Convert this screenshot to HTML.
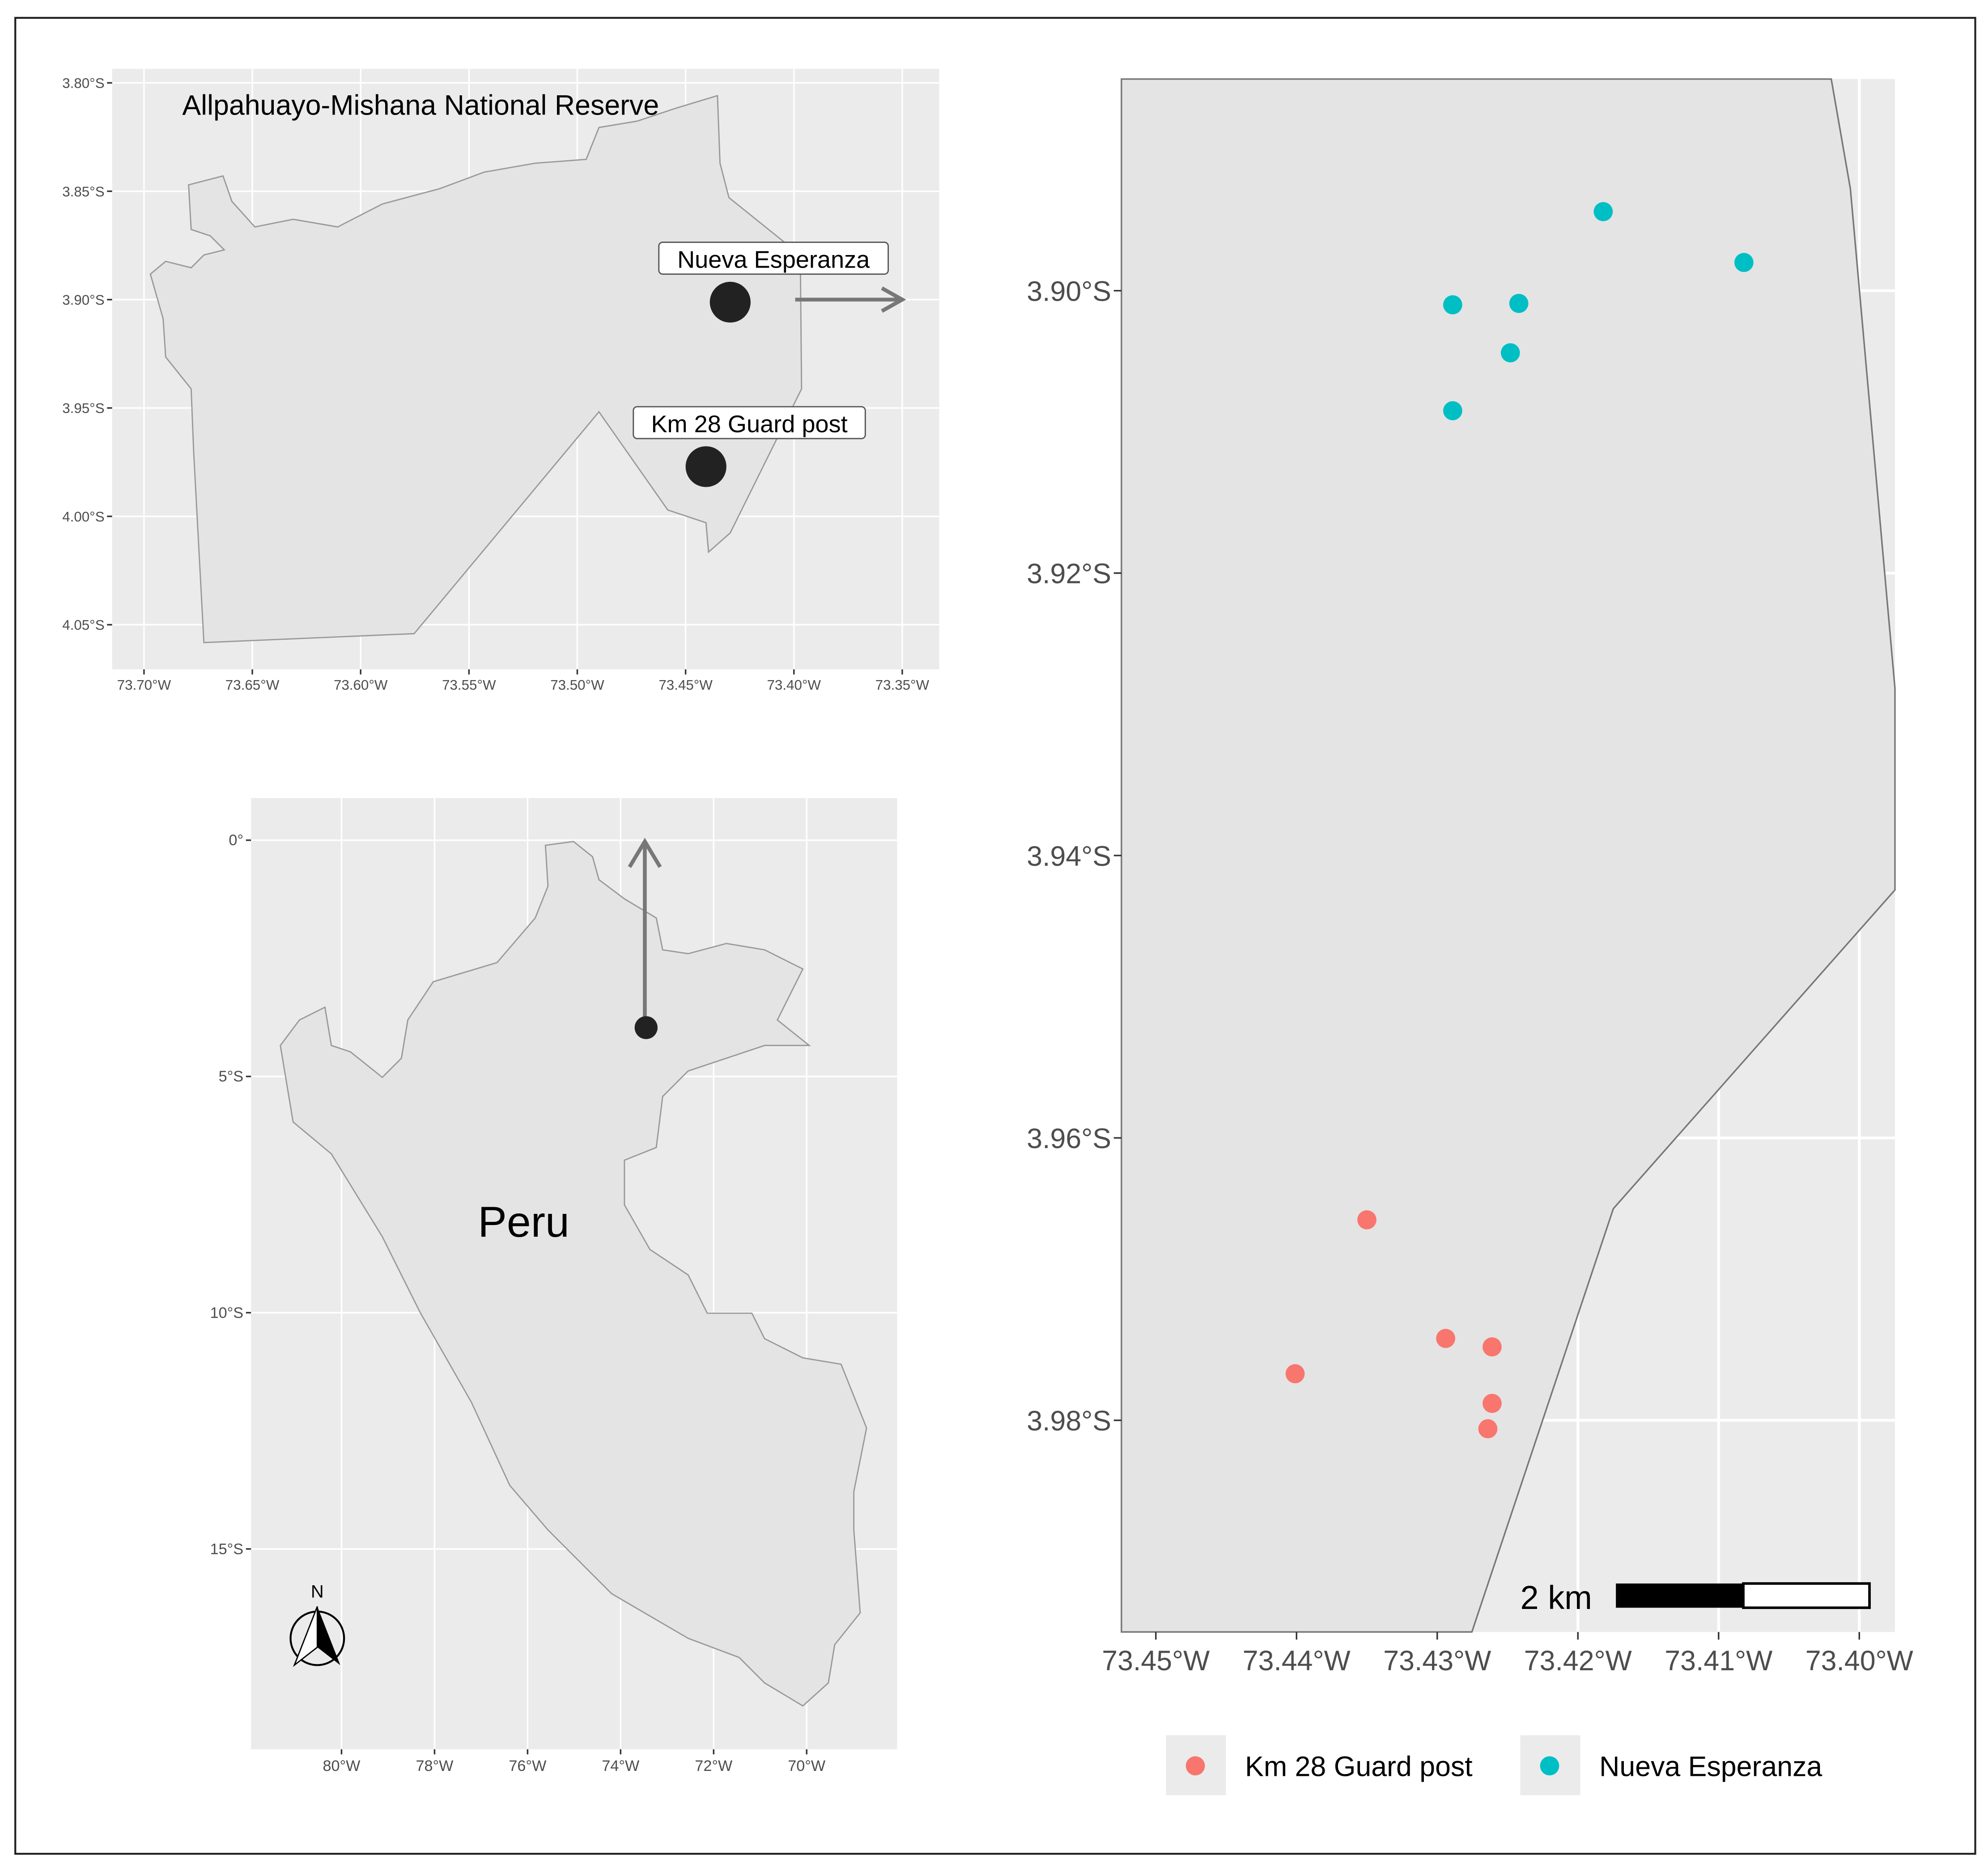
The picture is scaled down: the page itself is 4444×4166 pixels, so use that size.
<!DOCTYPE html>
<html><head><meta charset="utf-8"><style>html,body{margin:0;padding:0;background:#fff}svg{display:block}text{font-family:"Liberation Sans",sans-serif}</style></head>
<body>
<svg id="fig" width="4444" height="4166" viewBox="0 0 1560 1462" preserveAspectRatio="none" xmlns="http://www.w3.org/2000/svg">
<rect x="12" y="14" width="1538" height="1440" fill="#fff" stroke="#222" stroke-width="1.5"/>

<g>
<rect x="88" y="54" width="649" height="471" fill="#ebebeb"/>
<g id="tlgrid" stroke="#fff" stroke-width="1.2"></g>
<polygon fill="#e4e4e4" stroke="#999" stroke-width="1" points="563,75 565,128 572,155 628,200 629,305 573,418 556,433 554,410 524,400 470,323 325,497 160,504 152,355 150,305 130,280 128,250 118,215 130,205 150,210 160,200 176,196 165,185 150,180 148,145 175,138 182,158 200,178 230,172 265,178 300,160 345,148 380,135 420,128 460,125 470,100 500,95 530,85"/>
<text x="143" y="90" font-size="22" fill="#000">Allpahuayo-Mishana National Reserve</text>
<circle cx="573" cy="237" r="16" fill="#222"/>
<circle cx="554" cy="366" r="16" fill="#222"/>
<line x1="624" y1="235" x2="706" y2="235" stroke="#777" stroke-width="3"/>
<polyline points="692,226 708,235 692,244" fill="none" stroke="#777" stroke-width="3"/>
<rect x="517" y="190" width="180" height="25" rx="3" fill="#fff" stroke="#555"/>
<text x="607" y="210" font-size="19" text-anchor="middle">Nueva Esperanza</text>
<rect x="497" y="319" width="182" height="25" rx="3" fill="#fff" stroke="#555"/>
<text x="588" y="339" font-size="19" text-anchor="middle">Km 28 Guard post</text>
<g id="tlaxes" font-size="11" fill="#4d4d4d"></g>
</g>

<g>
<rect x="197" y="626" width="507" height="746" fill="#ebebeb"/>
<g id="blgrid" stroke="#fff" stroke-width="1.2"></g>
<polygon fill="#e4e4e4" stroke="#999" stroke-width="1" points="428,663 450,660 465,672 470,690 490,705 515,720 520,745 540,748 570,740 600,745 630,760 610,800 635,820 600,820 570,830 540,840 520,860 515,900 490,910 490,945 510,980 540,1000 555,1030 590,1030 600,1050 630,1065 660,1070 680,1120 670,1170 670,1200 675,1265 655,1290 650,1320 630,1338 600,1320 580,1300 540,1285 480,1250 430,1200 400,1165 370,1100 330,1030 300,970 260,905 230,880 225,850 220,820 235,800 255,790 260,820 275,825 300,845 315,830 320,800 340,770 390,755 420,720 430,695"/>
<text x="375" y="970" font-size="34">Peru</text>
<line x1="506" y1="806" x2="506" y2="662" stroke="#777" stroke-width="3"/>
<polyline points="494,680 506,660 518,680" fill="none" stroke="#777" stroke-width="3"/>
<circle cx="507" cy="806" r="9" fill="#222"/>
<g>
<text x="249" y="1253" font-size="14" text-anchor="middle">N</text>
<circle cx="249" cy="1285" r="21" fill="none" stroke="#000" stroke-width="1.5"/>
<polygon points="249,1260 231,1306 249,1292" fill="#fff" stroke="#000"/>
<polygon points="249,1260 267,1306 249,1292" fill="#000"/>
</g>
<g id="blaxes" font-size="12" fill="#4d4d4d"></g>
</g>

<g>
<rect x="880" y="62" width="607" height="1218" fill="#ebebeb"/>
<g id="rgrid" stroke="#fff"></g>
<polygon fill="#e4e4e4" stroke="#777" stroke-width="1.2" points="880,62 1437,62 1452,148 1487,540 1487,698 1266,948 1155,1280 880,1280"/>
<g id="pts"></g>
<g>
<text x="1193" y="1262" font-size="26">2 km</text>
<rect x="1268" y="1242" width="100" height="19" fill="#000"/>
<rect x="1368" y="1242" width="99" height="19" fill="#fff" stroke="#000" stroke-width="2"/>
</g>
<g id="raxes" font-size="22" fill="#4d4d4d"></g>
<g>
<rect x="915" y="1361" width="47" height="47" fill="#ebebeb"/>
<circle cx="938" cy="1385" r="7.5" fill="#F8766D"/>
<text x="977" y="1393" font-size="22">Km 28 Guard post</text>
<rect x="1193" y="1361" width="47" height="47" fill="#ebebeb"/>
<circle cx="1216" cy="1385" r="7.5" fill="#00BFC4"/>
<text x="1255" y="1393" font-size="22">Nueva Esperanza</text>
</g>
</g>
</svg>
<script>
const NS="http://www.w3.org/2000/svg";
const tlLatTicks=[3.80,3.85,3.90,3.95,4.00,4.05];
const tlLonTicks=[73.70,73.65,73.60,73.55,73.50,73.45,73.40,73.35];
const peruLatTicks=[0,5,10,15];
const peruLonTicks=[80,78,76,74,72,70];
const rLatTicks=[3.90,3.92,3.94,3.96,3.98];
const rLonTicks=[73.45,73.44,73.43,73.42,73.41,73.40];
const km28Lon=[73.4350,73.4294,73.4261,73.4401,73.4261,73.4264];
const km28Lat=[3.9658,3.9742,3.9748,3.9767,3.9788,3.9806];
const nuevaLon=[73.4182,73.4082,73.4289,73.4242,73.4248,73.4289];
const nuevaLat=[3.8944,3.8980,3.9010,3.9009,3.9044,3.9085];

function mk(tag,attrs,parent,txt){const e=document.createElementNS(NS,tag);for(const k in attrs)e.setAttribute(k,attrs[k]);if(txt!==undefined)e.textContent=txt;parent.appendChild(e);return e;}
const tlX=v=>113+(73.70-v)/0.05*85, tlY=v=>65+(v-3.80)/0.05*85;
const pX=v=>268+(80-v)/2*73, pY=v=>659+v/5*185.3;
const rX=v=>907+(73.45-v)/0.01*110.4, rY=v=>228+(v-3.90)/0.02*221.5;

function axes(gridId,axId,latT,lonT,fx,fy,x0,x1,y0,y1,latFmt,lonFmt,tlen,ldx,ldy,name){
  const g=document.getElementById(gridId),a=document.getElementById(axId);
  latT.forEach(v=>{const y=fy(v);
    const l=mk('line',{x1:x0,x2:x1,y1:y,y2:y},g);
    
    
    mk('line',{x1:x0-tlen,x2:x0,y1:y,y2:y,stroke:'#333','stroke-width':1.2},a);
    const t=mk('text',{x:x0-tlen-2,y:y+ldy,'text-anchor':'end'},a,latFmt(v));
    
    });
  lonT.forEach(v=>{const x=fx(v);
    const l=mk('line',{x1:x,x2:x,y1:y0,y2:y1},g);
    
    
    mk('line',{x1:x,x2:x,y1:y1,y2:y1+tlen,stroke:'#333','stroke-width':1.2},a);
    const t=mk('text',{x:x,y:y1+tlen+ldx,'text-anchor':'middle'},a,lonFmt(v));
    
    });
}
axes('tlgrid','tlaxes',tlLatTicks,tlLonTicks,tlX,tlY,88,737,54,525,v=>v.toFixed(2)+'°S',v=>v.toFixed(2)+'°W',4,12,4,'reserve');
axes('blgrid','blaxes',peruLatTicks,peruLonTicks,pX,pY,197,704,626,1372,v=>v===0?'0°':v+'°S',v=>v+'°W',4,13,4,'peru');
axes('rgrid','raxes',rLatTicks,rLonTicks,rX,rY,880,1487,62,1280,v=>v.toFixed(2)+'°S',v=>v.toFixed(2)+'°W',6,24,8,'sites');
document.querySelectorAll('#rgrid line').forEach(l=>l.setAttribute('stroke-width','2.2'));

const pg=document.getElementById('pts');
km28Lon.forEach((v,i)=>{const c=mk('circle',{cx:rX(v),cy:rY(km28Lat[i]),r:7.5,fill:'#F8766D'},pg);
  
  });
nuevaLon.forEach((v,i)=>{const c=mk('circle',{cx:rX(v),cy:rY(nuevaLat[i]),r:7.5,fill:'#00BFC4'},pg);
  
  });
</script>
</body></html>
